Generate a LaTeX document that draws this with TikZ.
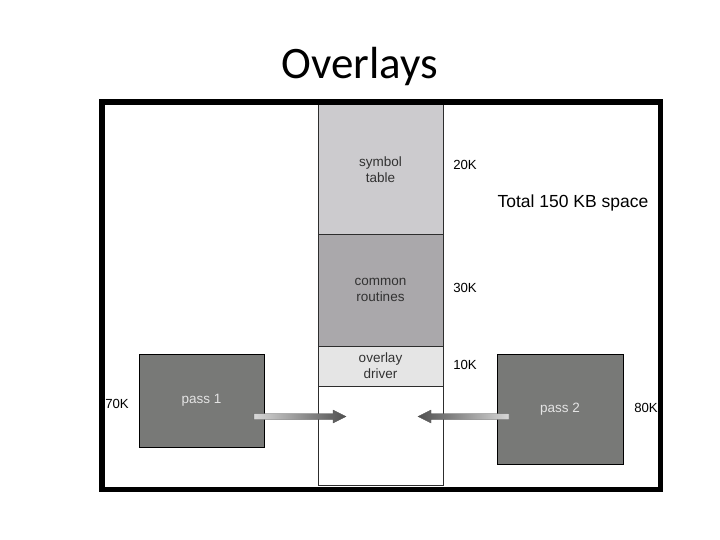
\documentclass[tikz,border=0pt]{standalone}
\usepackage{fontspec}
\setmainfont{Carlito}
\newfontfamily\arial{Liberation Sans}
\definecolor{symcol}{RGB}{204,203,206}
\definecolor{comcol}{RGB}{170,168,171}
\definecolor{drvcol}{RGB}{229,229,229}
\definecolor{passcol}{RGB}{120,121,119}
\definecolor{passtxt}{RGB}{228,228,228}
\definecolor{linecol}{RGB}{45,45,45}
\definecolor{lbl}{RGB}{50,50,50}
\definecolor{arrlight}{RGB}{215,215,215}
\definecolor{arrdark}{RGB}{80,80,80}
\begin{document}
\begin{tikzpicture}[x=1pt,y=-1pt,
  memblock/.style={draw=linecol,line width=1pt,inner sep=0pt,outer sep=0pt,anchor=north west,minimum width=125pt,align=center,font=\arial\fontsize{13.5}{16}\selectfont,text=lbl},
  passbox/.style={draw=black,line width=1pt,fill=passcol,inner sep=0pt,outer sep=0pt,anchor=north west,text=passtxt,font=\arial\fontsize{13.5}{16}\selectfont},
  sizelbl/.style={font=\arial\fontsize{13.2}{16}\selectfont,text=black,inner sep=0pt}]
\useasboundingbox (0,0) rectangle (720,540);
% title
\node (title) at (360,67) {\fontsize{45}{50}\selectfont Overlays};
% memory column
\node[memblock,fill=symcol,minimum height=129pt] (sym) at (318,105) {symbol\\table};
\node[memblock,fill=comcol,minimum height=112pt] (com) at (318,234) {common\\routines};
\node[memblock,fill=drvcol,minimum height=40pt] (drv) at (318,346) {overlay\\driver};
\node[memblock,fill=white,minimum height=99pt] (free) at (318,386) {};
% size labels
\node[sizelbl] (l20) at (465,165) {20K};
\node[sizelbl] (l30) at (465,288) {30K};
\node[sizelbl] (l10) at (465,365) {10K};
% pass boxes
\node[passbox,minimum width=125pt,minimum height=93pt] (p1) at (139,354) {pass 1};
\node[passbox,minimum width=126pt,minimum height=110pt] (p2) at (497,354) {pass 2};
\node[sizelbl] (l70) at (117,404) {70K};
\node[sizelbl] (l80) at (646,408) {80K};
% arrows
\coordinate (a1tail) at (254,416.5);
\coordinate (a1tip) at (346,416.5);
\coordinate (a2tail) at (509,416.5);
\coordinate (a2tip) at (418,416.5);
\shade[left color=arrlight,right color=arrdark,draw=arrdark,line width=0.3pt]
  (a1tail) ++(0,-3) -- ++(79,0) -- ++(0,-3.5) -- (a1tip) -- ++(-13,6.5) -- ++(0,-3.5) -- ++(-79,0) -- cycle;
\shade[right color=arrlight,left color=arrdark,draw=arrdark,line width=0.3pt]
  (a2tail) ++(0,-3) -- ++(-78,0) -- ++(0,-3.5) -- (a2tip) -- ++(13,6.5) -- ++(0,-3.5) -- ++(78,0) -- cycle;
% total label
\node[font=\arial\fontsize{17.5}{20}\selectfont,inner sep=0pt] (total) at (573,203) {Total 150 KB space};
% frame
\draw[line width=5.5pt] (102,102) rectangle (660.5,489.5);
\end{tikzpicture}
\end{document}
